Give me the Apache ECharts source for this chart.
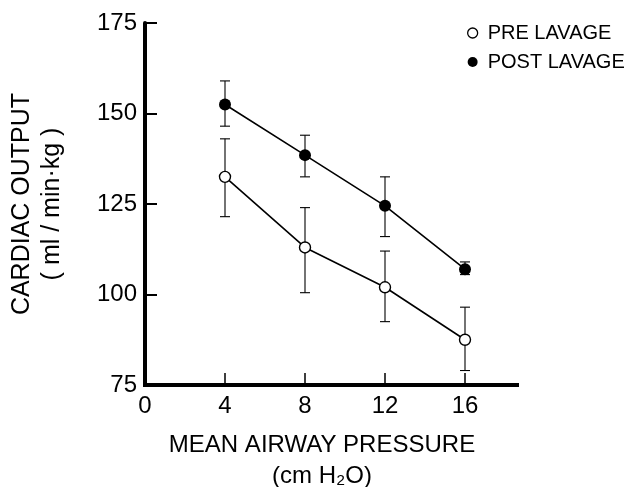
<!DOCTYPE html>
<html>
<head>
<meta charset="utf-8">
<script src="https://cdn.jsdelivr.net/npm/echarts@6/dist/echarts.min.js"></script>
<style>
html,body{margin:0;padding:0;background:#fff;}
#chart{width:631px;height:487px;}
</style>
</head>
<body>
<div id="chart"></div>
<script>
// ---- data ----
var pressure = [4, 8, 12, 16];
var preMean  = [132.5, 113, 102, 87.5];
var preLow   = [121.5, 100.5, 92.5, 79];
var preHigh  = [143, 124, 112, 96.5];
var postMean = [152.5, 138.5, 124.5, 107];
var postLow  = [146.5, 132.5, 116, 105.5];
var postHigh = [159, 144, 132.5, 109];
var xTickLabels = [0, 4, 8, 12, 16];
var yTickLabels = [75, 100, 125, 150, 175];
var seriesNames = ['PRE LAVAGE', 'POST LAVAGE'];

var FONT = "'Liberation Sans', Arial, Helvetica, sans-serif";

function pairs(xs, ys) { return xs.map(function (x, i) { return [x, ys[i]]; }); }
function triples(xs, lo, hi) { return xs.map(function (x, i) { return [x, lo[i], hi[i]]; }); }

function errRender(params, api) {
  var x = api.value(0), lo = api.value(1), hi = api.value(2);
  var a = api.coord([x, hi]), b = api.coord([x, lo]);
  var c = 5;
  var st = { stroke: '#000', lineWidth: 1.1 };
  return {
    type: 'group',
    children: [
      { type: 'line', shape: { x1: a[0], y1: a[1], x2: b[0], y2: b[1] }, style: st },
      { type: 'line', shape: { x1: a[0] - c, y1: a[1], x2: a[0] + c, y2: a[1] }, style: st },
      { type: 'line', shape: { x1: b[0] - c, y1: b[1], x2: b[0] + c, y2: b[1] }, style: st }
    ]
  };
}

var chart = echarts.init(document.getElementById('chart'), null, { renderer: 'canvas' });
chart.setOption({
  backgroundColor: '#fff',
  animation: false,
  textStyle: { fontFamily: FONT, color: '#000' },
  grid: { left: 145, right: 114, top: 23, bottom: 102, containLabel: false, outerBoundsMode: 'none' },
  legend: {
    orient: 'vertical',
    left: 467,
    top: 23,
    padding: 0,
    itemGap: 9,
    itemWidth: 10,
    itemHeight: 10,
    textStyle: { fontFamily: FONT, fontSize: 20, color: '#000', padding: [0, 0, 0, 5] },
    data: [
      { name: seriesNames[0], icon: 'circle', itemStyle: { color: '#fff', borderColor: '#000', borderWidth: 1.3 } },
      { name: seriesNames[1], icon: 'circle', itemStyle: { color: '#000', borderColor: '#000', borderWidth: 0 } }
    ]
  },
  xAxis: {
    type: 'value',
    min: 0,
    max: 18.6,
    interval: 4,
    name: 'MEAN AIRWAY PRESSURE\n(cm H\u2082O)',
    nameLocation: 'middle',
    nameGap: 45,
    nameTextStyle: { fontFamily: FONT, fontSize: 24, color: '#000', lineHeight: 31, padding: [0, 18, 0, 0] },
    axisLine: { show: true, onZero: false, lineStyle: { color: '#000', width: 4, cap: 'square' } },
    axisTick: { show: true, inside: true, length: 12, lineStyle: { color: '#000', width: 1.5 }, customValues: pressure },
    axisLabel: { show: true, margin: 9, fontSize: 24, color: '#000', fontFamily: FONT, customValues: xTickLabels },
    splitLine: { show: false }
  },
  yAxis: {
    type: 'value',
    min: 75,
    max: 175,
    interval: 25,
    name: 'CARDIAC OUTPUT\n( ml / min\u00b7kg )',
    nameLocation: 'middle',
    nameRotate: 90,
    nameGap: 78,
    nameTextStyle: { fontFamily: FONT, fontSize: 25, color: '#000', lineHeight: 30 },
    axisLine: { show: true, onZero: false, lineStyle: { color: '#000', width: 4 } },
    axisTick: { show: true, inside: true, length: 12, lineStyle: { color: '#000', width: 2 }, customValues: [100, 125, 150, 175] },
    axisLabel: { show: true, margin: 8, fontSize: 24, color: '#000', fontFamily: FONT, customValues: yTickLabels },
    splitLine: { show: false }
  },
  series: [
    {
      type: 'custom', name: 'pre-err', renderItem: errRender, z: 1,
      data: triples(pressure, preLow, preHigh), silent: true
    },
    {
      type: 'custom', name: 'post-err', renderItem: errRender, z: 1,
      data: triples(pressure, postLow, postHigh), silent: true
    },
    {
      type: 'line', name: seriesNames[0], z: 3,
      data: pairs(pressure, preMean),
      symbol: 'circle', symbolSize: 11,
      lineStyle: { color: '#000', width: 1.6 },
      itemStyle: { color: '#fff', borderColor: '#000', borderWidth: 1.4 }
    },
    {
      type: 'line', name: seriesNames[1], z: 3,
      data: pairs(pressure, postMean),
      symbol: 'circle', symbolSize: 12,
      lineStyle: { color: '#000', width: 1.6 },
      itemStyle: { color: '#000', borderColor: '#000', borderWidth: 0 }
    }
  ]
});
</script>
</body>
</html>
